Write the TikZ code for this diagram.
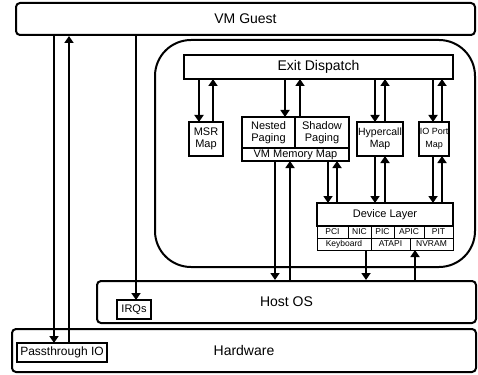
\documentclass[tikz,border=0pt]{standalone}
\usepackage{fontspec}
\setmainfont{Liberation Sans}
\usetikzlibrary{arrows.meta, positioning}
\tikzstyle{layer} = [rectangle, rounded corners=4pt, draw=black, line width=2pt, inner sep=0pt, font=\fontsize{14}{16}\selectfont]
\tikzstyle{module} = [rectangle, draw=black, line width=1.3pt, fill=white, align=center, inner sep=0pt, outer sep=0pt, font=\fontsize{11}{12.5}\selectfont]
\tikzstyle{cell} = [rectangle, draw=black, line width=1pt, inner sep=0pt, outer sep=0pt, minimum height=12pt, font=\fontsize{8.5}{9}\selectfont]
\tikzstyle{arrow} = [line width=1.8pt, -{Triangle[length=7pt,width=9pt]}]

\begin{document}
\begin{tikzpicture}[x=1pt, y=-1pt]
\useasboundingbox (0,0) rectangle (478,374);

% layers
\node[layer, minimum width=459, minimum height=32] (guest) at (245.5,19) {VM Guest};
\node[layer, rounded corners=36pt, minimum width=320, minimum height=227] (monitor) at (315,153.5) {};
\node[layer, minimum width=379, minimum height=42] (hostos) at (286.5,302) {Host OS};
\node[layer, minimum width=464, minimum height=43] (hw) at (244,350.5) {Hardware};

% monitor parts
\node[module, minimum width=269, minimum height=24, font=\fontsize{14}{16}\selectfont] (exit) at (318.5,67) {Exit Dispatch};
\node[module, minimum width=34, minimum height=34] (msr) at (206,139) {MSR\\Map};
\node[module, minimum width=53, minimum height=31] (nested) at (268.5,132.5) {Nested\\Paging};
\node[module, minimum width=54, minimum height=31, right=0pt of nested] (shadow) {Shadow\\Paging};
\node[module, minimum width=107, minimum height=13, anchor=north west] (vmmem) at (nested.south west) {VM Memory Map};
\node[module, minimum width=46, minimum height=34, font=\fontsize{10.5}{12.5}\selectfont] (hyper) at (380,139) {Hypercall\\Map};
\node[module, minimum width=30, minimum height=34, font=\fontsize{9}{12.5}\selectfont] (ioport) at (434,139) {IO Port\\Map};

% device layer
\node[module, minimum width=136, minimum height=23] (devlayer) at (385,214.5) {Device Layer};
\node[cell, minimum width=31, anchor=north west] (pci) at (devlayer.south west) {PCI};
\node[cell, minimum width=23, right=0pt of pci] (nic) {NIC};
\node[cell, minimum width=23, right=0pt of nic] (pic) {PIC};
\node[cell, minimum width=30, right=0pt of pic] (apic) {APIC};
\node[cell, minimum width=29, right=0pt of apic] (pit) {PIT};
\node[cell, minimum width=54, anchor=north west] (kbd) at (pci.south west) {Keyboard};
\node[cell, minimum width=39, right=0pt of kbd] (atapi) {ATAPI};
\node[cell, minimum width=43, right=0pt of atapi] (nvram) {NVRAM};

% host side
\node[module, minimum width=34, minimum height=19] (irqs) at (134,309.5) {IRQs};
\node[module, minimum width=90, minimum height=19, font=\fontsize{12}{14}\selectfont] (pio) at (62,352.5) {Passthrough IO};

% guest <-> hardware / host
\draw[arrow] ([xshift=-8pt]pio.north |- guest.south) -- ([xshift=-8pt]pio.north);
\draw[arrow] ([xshift=7pt]pio.north) -- ([xshift=7pt]pio.north |- guest.south);
\draw[arrow] ([xshift=2pt]irqs.north |- guest.south) -- ([xshift=2pt]irqs.north);

% exit dispatch
\draw[arrow] ([xshift=-7pt]msr.north |- exit.south) -- ([xshift=-7pt]msr.north);
\draw[arrow] ([xshift=7pt]msr.north) -- ([xshift=7pt]msr.north |- exit.south);
\draw[arrow] ([xshift=-10pt]nested.north east |- exit.south) -- ([xshift=-10pt]nested.north east);
\draw[arrow] ([xshift=5pt]shadow.north west) -- ([xshift=5pt]shadow.north west |- exit.south);
\draw[arrow] ([xshift=-5pt]hyper.north |- exit.south) -- ([xshift=-5pt]hyper.north);
\draw[arrow] ([xshift=5pt]hyper.north) -- ([xshift=5pt]hyper.north |- exit.south);
\draw[arrow] ([xshift=-1pt]ioport.north |- exit.south) -- ([xshift=-1pt]ioport.north);
\draw[arrow] ([xshift=8pt]ioport.north) -- ([xshift=8pt]ioport.north |- exit.south);

% to device layer
\draw[arrow] ([xshift=-21pt]vmmem.south east) -- ([xshift=-21pt]vmmem.south east |- devlayer.north);
\draw[arrow] ([xshift=-12pt]vmmem.south east |- devlayer.north) -- ([xshift=-12pt]vmmem.south east);
\draw[arrow] ([xshift=-5pt]hyper.south) -- ([xshift=-5pt]hyper.south |- devlayer.north);
\draw[arrow] ([xshift=5pt]hyper.south |- devlayer.north) -- ([xshift=5pt]hyper.south);
\draw[arrow] ([xshift=-1pt]ioport.south) -- ([xshift=-1pt]ioport.south |- devlayer.north);
\draw[arrow] ([xshift=8pt]ioport.south |- devlayer.north) -- ([xshift=8pt]ioport.south);

% to host os
\draw[arrow] ([xshift=33pt]vmmem.south west) -- ([xshift=33pt]vmmem.south west |- hostos.north);
\draw[arrow] ([xshift=48pt]vmmem.south west |- hostos.north) -- ([xshift=48pt]vmmem.south west);
\draw[arrow] ([xshift=-5pt]kbd.south east) -- ([xshift=-5pt]kbd.south east |- hostos.north);
\draw[arrow] ([xshift=5pt]nvram.south west |- hostos.north) -- ([xshift=5pt]nvram.south west);
\end{tikzpicture}
\end{document}
